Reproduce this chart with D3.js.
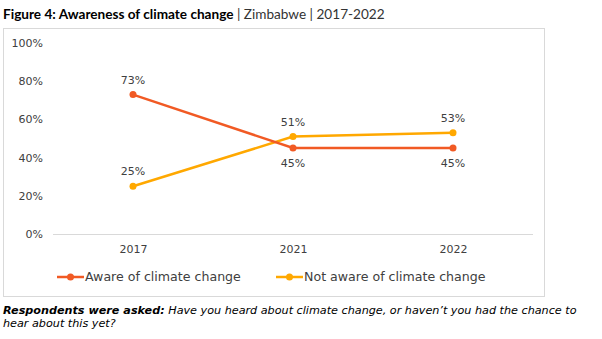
<!DOCTYPE html>
<html>
<head>
<meta charset="utf-8">
<script src="https://cdn.jsdelivr.net/npm/d3@7"></script>
<style>
  body { margin: 0; background: #fff; }
  svg { font-family: "DejaVu Sans", sans-serif; }
</style>
</head>
<body>
<div id="chart"></div>
<script>
// survey years and shares (%)
const years = ["2017", "2021", "2022"];
const aware = [73, 45, 45];
const notAware = [25, 51, 53];
const yTicks = [0, 20, 40, 60, 80, 100];

const seriesNames = ["Aware of climate change", "Not aware of climate change"];
const seriesColors = ["#F15A24", "#FFA800"];

const W = 602, H = 339;
const svg = d3.select("#chart").append("svg")
  .attr("width", W)
  .attr("height", H);

//------------------ TITLE ------------------//
const title = svg.append("text")
  .attr("x", 3)
  .attr("y", 19)
  .style("font-family", "Lato, sans-serif")
  .style("font-size", "13.6px")
  .style("fill", "#000");
title.append("tspan").style("font-weight", "bold").text("Figure 4: Awareness of climate change");
title.append("tspan").style("fill", "#333").text(" | Zimbabwe | 2017-2022");

// frame around the plot
svg.append("rect")
  .attr("x", 3.5)
  .attr("y", 28.5)
  .attr("width", 541)
  .attr("height", 268)
  .attr("fill", "none")
  .attr("stroke", "#d9d9d9")
  .attr("stroke-width", 1);

//------------------ SCALES ------------------//
const x = d3.scalePoint()
  .domain(years)
  .range([53, 533])
  .padding(0.5);

const y = d3.scaleLinear()
  .domain([0, 100])
  .range([234, 43]);

// y axis labels, no line
const yAxis = svg.append("g")
  .attr("transform", "translate(46,0)")
  .call(d3.axisLeft(y).tickValues(yTicks).tickSize(0).tickPadding(3).tickFormat(d => d + "%"));
yAxis.select(".domain").remove();
yAxis.selectAll("text")
  .style("font-family", "'DejaVu Sans', sans-serif")
  .style("font-size", "11px")
  .style("fill", "#404040");

// x axis baseline + year labels
const xAxis = svg.append("g")
  .attr("transform", "translate(0," + y(0) + ")")
  .call(d3.axisBottom(x).tickSize(0).tickPadding(11));
xAxis.select(".domain")
  .attr("d", "M53,0.5H533")
  .attr("stroke", "#d9d9d9");
xAxis.selectAll("text")
  .style("font-family", "'DejaVu Sans', sans-serif")
  .style("font-size", "11px")
  .style("fill", "#404040");

//------------------ LINES ------------------//
const series = [aware, notAware].map((vals, i) => ({
  name: seriesNames[i],
  color: seriesColors[i],
  values: vals.map((v, j) => ({ year: years[j], value: v }))
}));

const line = d3.line()
  .x(d => x(d.year))
  .y(d => y(d.value));

// draw "not aware" first so "aware" sits on top where they cross
series.slice().reverse().forEach(s => {
  svg.append("path")
    .datum(s.values)
    .attr("d", line)
    .attr("fill", "none")
    .attr("stroke", s.color)
    .attr("stroke-width", 2.5);

  svg.append("g")
    .selectAll("circle")
    .data(s.values)
    .enter()
    .append("circle")
    .attr("cx", d => x(d.year))
    .attr("cy", d => y(d.value))
    .attr("r", 3.5)
    .attr("fill", s.color);
});

// value labels: "not aware" always above, "aware" below once it is the lower line
years.forEach((yr, j) => {
  const a = aware[j], n = notAware[j];
  [[a, a > n], [n, true]].forEach(([v, top]) => {
    svg.append("text")
      .attr("x", x(yr))
      .attr("y", top ? y(v) - 11 : y(v) + 19)
      .attr("text-anchor", "middle")
      .style("font-size", "11px")
      .style("fill", "#404040")
      .text(v + "%");
  });
});

//------------------ LEGEND ------------------//
const legendX = [57, 276];
const legend = svg.selectAll(".legend-item")
  .data(series)
  .enter()
  .append("g")
  .attr("class", "legend-item")
  .attr("transform", (d, i) => "translate(" + legendX[i] + ",277)");

legend.append("line")
  .attr("x1", 0).attr("x2", 27)
  .attr("y1", 0).attr("y2", 0)
  .attr("stroke", d => d.color)
  .attr("stroke-width", 2.5);

legend.append("circle")
  .attr("cx", 13.5).attr("cy", 0).attr("r", 3.5)
  .attr("fill", d => d.color);

legend.append("text")
  .attr("x", 28)
  .attr("y", 0)
  .attr("dy", ".35em")
  .style("font-size", "12.6px")
  .style("fill", "#404040")
  .text(d => d.name);

//------------------ FOOTNOTE ------------------//
const note = svg.append("text")
  .attr("x", 3)
  .attr("y", 314)
  .style("font-size", "11.2px")
  .style("font-style", "italic")
  .style("fill", "#000");
note.append("tspan").style("font-weight", "bold").text("Respondents were asked:");
note.append("tspan").text(" Have you heard about climate change, or haven’t you had the chance to");

svg.append("text")
  .attr("x", 3)
  .attr("y", 327)
  .style("font-size", "11.2px")
  .style("font-style", "italic")
  .style("fill", "#000")
  .text("hear about this yet?");
</script>
</body>
</html>
